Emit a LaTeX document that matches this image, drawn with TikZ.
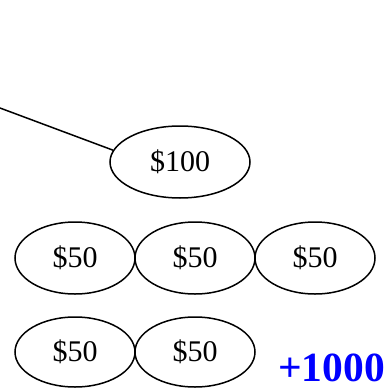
\documentclass[tikz,border=0pt]{standalone}
\usepackage{fontspec}
\setmainfont{Liberation Serif}
\usetikzlibrary{shapes.geometric}
\begin{document}
\begin{tikzpicture}[x=1pt,y=-1pt,
  coin/.style={draw, ellipse, line width=1.5pt, inner sep=0pt,
    minimum width=120pt, minimum height=72pt, font=\fontsize{30}{30}\selectfont},
  bonus/.style={text=blue, font=\bfseries\fontsize{41.5}{41.5}\selectfont, inner sep=0pt, anchor=base west}]
\useasboundingbox (0,0) rectangle (388,388);
\node[coin, minimum width=140pt] (a) at (180,162) {\$100};
\node[coin] (b1) at (75,258) {\$50};
\node[coin] (b2) at (195,258) {\$50};
\node[coin] (b3) at (315,258) {\$50};
\node[coin, minimum height=70pt] (c1) at (75,352) {\$50};
\node[coin, minimum height=70pt] (c2) at (195,352) {\$50};
\node[bonus] (p) at (278,381) {+1000};
\coordinate (s) at (0,108);
\draw[line width=1.5pt] (s) -- (a.170);
\end{tikzpicture}
\end{document}
